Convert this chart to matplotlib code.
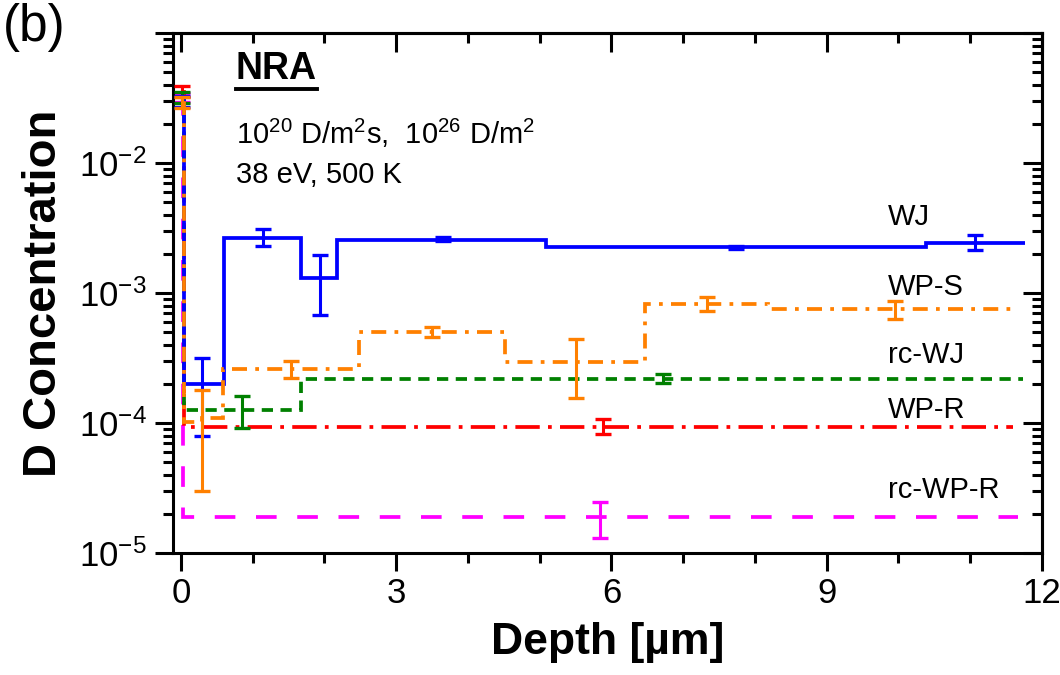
import numpy as np
import matplotlib
matplotlib.use("Agg")
from matplotlib import pyplot as plt
from matplotlib.ticker import LogLocator, FuncFormatter, MultipleLocator
from matplotlib.lines import Line2D

plt.rcParams['font.family'] = ['Liberation Sans', 'DejaVu Sans']
plt.rcParams['mathtext.fontset'] = 'custom'
plt.rcParams['mathtext.rm'] = 'Liberation Sans'
plt.rcParams['mathtext.it'] = 'Liberation Sans'
plt.rcParams['mathtext.bf'] = 'Liberation Sans:bold'
plt.rcParams['axes.unicode_minus'] = False

# Stufenprofile (Bin-Grenzen in um, Konzentration je Bin)
wj_edges = [0, 0.04, 0.6, 1.67, 2.17, 5.09, 10.39, 11.76]
wj_vals = [3.0e-2, 2.0e-4, 2.65e-3, 1.3e-3, 2.56e-3, 2.25e-3, 2.44e-3]

wps_edges = [0, 0.04, 0.3, 0.59, 2.48, 4.52, 6.47, 8.18, 11.65]
wps_vals = [2.9e-2, 1.02e-4, 1.09e-4, 2.6e-4, 5.0e-4, 2.96e-4, 8.3e-4, 7.5e-4]

rcwj_edges = [0, 0.05, 1.68, 11.74]
rcwj_vals = [3.2e-2, 1.27e-4, 2.2e-4]

wpr_edges = [0, 0.05, 11.6]
wpr_vals = [3.5e-2, 9.4e-5]

rcwpr_edges = [0, 0.03, 11.67]
rcwpr_vals = [3.2e-2, 1.88e-5]

# Fehlerbalken: x, Wert, untere und obere Grenze
wj_ex = [0.02, 0.3, 1.14, 1.94, 3.65, 7.74, 11.07]
wj_ey = [3.0e-2, 2.0e-4, 2.65e-3, 1.3e-3, 2.6e-3, 2.25e-3, 2.44e-3]
wj_elo = [2.7e-2, 7.9e-5, 2.3e-3, 6.8e-4, 2.52e-3, 2.18e-3, 2.14e-3]
wj_ehi = [3.3e-2, 3.16e-4, 3.1e-3, 1.97e-3, 2.68e-3, 2.32e-3, 2.8e-3]

wps_ex = [0.02, 0.3, 1.54, 3.5, 5.5, 7.33, 9.95]
wps_ey = [2.9e-2, 1.05e-4, 2.6e-4, 5.0e-4, 2.96e-4, 8.3e-4, 7.5e-4]
wps_elo = [2.63e-2, 3.0e-5, 2.23e-4, 4.6e-4, 1.55e-4, 7.3e-4, 6.3e-4]
wps_ehi = [3.24e-2, 1.8e-4, 3.0e-4, 5.5e-4, 4.4e-4, 9.4e-4, 8.7e-4]

rcwj_ex = [0.02, 0.85, 6.72]
rcwj_ey = [3.2e-2, 1.27e-4, 2.2e-4]
rcwj_elo = [2.9e-2, 9.1e-5, 2.04e-4]
rcwj_ehi = [3.54e-2, 1.62e-4, 2.38e-4]

wpr_ex = [0.02, 5.88]
wpr_ey = [3.5e-2, 9.4e-5]
wpr_elo = [3.2e-2, 8.3e-5]
wpr_ehi = [3.9e-2, 1.07e-4]

rcwpr_ex = [0.02, 5.84]
rcwpr_ey = [3.2e-2, 1.88e-5]
rcwpr_elo = [2.96e-2, 1.3e-5]
rcwpr_ehi = [3.47e-2, 2.47e-5]

labels = ['WJ', 'WP-S', 'rc-WJ', 'WP-R', 'rc-WP-R']
label_x = 9.85
label_y = [3.86e-3, 1.12e-3, 3.33e-4, 1.26e-4, 3.05e-5]

fig = plt.figure(figsize=(10.6, 6.75), dpi=100)
ax = fig.add_axes([0.1632, 0.1807, 0.983 - 0.1632, 0.951 - 0.1807])

series = [
    (wj_edges, wj_vals, wj_ex, wj_ey, wj_elo, wj_ehi, '#0000FF', '-', 4),
    (rcwpr_edges, rcwpr_vals, rcwpr_ex, rcwpr_ey, rcwpr_elo, rcwpr_ehi, '#FF00FF', (0, (5.5, 5.5)), 2),
    (wpr_edges, wpr_vals, wpr_ex, wpr_ey, wpr_elo, wpr_ehi, '#FF0000', (0, (6.5, 2.2, 1, 2.2)), 3),
    (rcwj_edges, rcwj_vals, rcwj_ex, rcwj_ey, rcwj_elo, rcwj_ehi, '#008000', (0, (3, 2)), 3),
    (wps_edges, wps_vals, wps_ex, wps_ey, wps_elo, wps_ehi, '#FF8000', (0, (4, 2.2, 1, 2.2)), 5),
]

for edges, vals, ex, ey, elo, ehi, col, ls, z in series:
    ax.stairs(vals, edges, baseline=None, color=col, linestyle=ls, linewidth=2.7, zorder=z)
    ey = np.array(ey)
    yerr = [ey - np.array(elo), np.array(ehi) - ey]
    ax.errorbar(ex, ey, yerr=yerr, fmt='none', ecolor=col, elinewidth=2.2,
                capsize=6, capthick=2.4, zorder=z)

ax.set_yscale('log')
ax.set_xlim(-0.11, 12)
ax.set_ylim(1e-5, 1e-1)

ax.xaxis.set_major_locator(MultipleLocator(3))
ax.xaxis.set_minor_locator(MultipleLocator(1))
ax.yaxis.set_major_locator(LogLocator(base=10, numticks=10))
ax.yaxis.set_minor_locator(LogLocator(base=10, subs=np.arange(2, 10), numticks=20))

def ylab(v, pos):
    e = int(round(np.log10(v)))
    if e > -2:
        return ''
    return r'$10^{%d}$' % e

ax.yaxis.set_major_formatter(FuncFormatter(ylab))
ax.xaxis.set_major_formatter(FuncFormatter(lambda v, p: '%d' % v))

ax.tick_params(which='major', direction='out', length=13, width=2.2, labelsize=25)
ax.tick_params(which='minor', direction='out', length=7, width=2.2)
ax.tick_params(axis='x', pad=4)
ax.tick_params(axis='y', pad=6)
for s in ax.spines.values():
    s.set_linewidth(2.2)

top = ax.secondary_xaxis('top')
top.xaxis.set_major_locator(MultipleLocator(3))
top.xaxis.set_minor_locator(MultipleLocator(1))
top.tick_params(which='major', direction='in', length=14, width=2.2, labeltop=False)
top.tick_params(which='minor', direction='in', length=7, width=2.2)

right = ax.secondary_yaxis('right')
right.yaxis.set_major_locator(LogLocator(base=10, numticks=10))
right.yaxis.set_minor_locator(LogLocator(base=10, subs=np.arange(2, 10), numticks=20))
right.tick_params(which='major', direction='in', length=14, width=2.2, labelright=False)
right.tick_params(which='minor', direction='in', length=7, width=2.2)
for s in list(top.spines.values()) + list(right.spines.values()):
    s.set_linewidth(2.2)

ax.set_xlabel('Depth [µm]', fontsize=32, fontweight='bold', labelpad=9)
ax.set_ylabel('D Concentration', fontsize=34, fontweight='bold', labelpad=9)

for lab, ly in zip(labels, label_y):
    ax.text(label_x, ly, lab, fontsize=21, va='center', ha='left')

nra = ax.text(0.0725, 0.93, 'NRA', transform=ax.transAxes, fontsize=27,
              fontweight='bold', va='center', ha='left')
ax.text(0.0725, 0.808, r'$10^{20}$ D/m$^{2}$s,  $10^{26}$ D/m$^{2}$',
        transform=ax.transAxes, fontsize=21, va='center', ha='left')
ax.text(0.0725, 0.727, '38 eV, 500 K', transform=ax.transAxes, fontsize=21,
        va='center', ha='left')
fig.text(0.003, 0.96, '(b)', fontsize=37, va='center', ha='left')

# NRA unterstreichen
fig.canvas.draw()
bb = nra.get_window_extent()
fig.add_artist(Line2D([bb.x0 / fig.bbox.width, bb.x1 / fig.bbox.width],
                      [(bb.y0 - 2) / fig.bbox.height] * 2,
                      transform=fig.transFigure, color='black', linewidth=2.8))

fig.savefig('out.png', dpi=100)
